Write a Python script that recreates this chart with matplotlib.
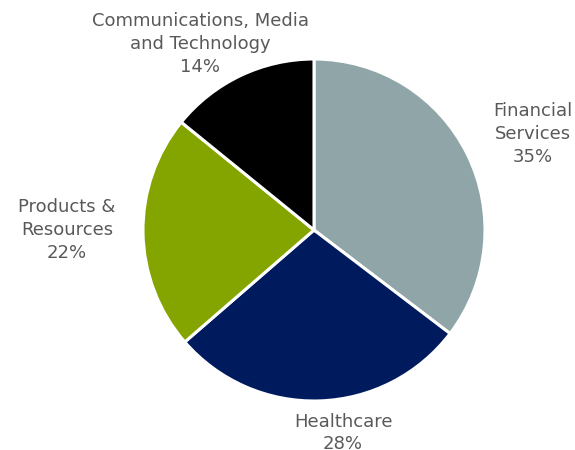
import matplotlib
matplotlib.use("Agg")
import matplotlib.pyplot as plt

# Revenue share by industry segment
segments = ["Financial\nServices", "Healthcare", "Products &\nResources",
            "Communications, Media\nand Technology"]
shares = [35, 28, 22, 14]
colors = ["#8FA5A8", "#001A5E", "#84A500", "#000000"]

# label anchor points (pixel-like coordinates, origin bottom-left)
label_pos = [(533, 316), (343, 17), (67, 220), (200, 406)]

W, H = 575, 450
fig = plt.figure(figsize=(W / 100, H / 100), dpi=100)
ax = fig.add_axes([0, 0, 1, 1])

ax.pie(shares, colors=colors, startangle=90, counterclock=False,
       center=(314, 220), radius=171, frame=True,
       wedgeprops=dict(edgecolor="white", linewidth=2.2))
ax.set_xlim(0, W)
ax.set_ylim(0, H)
ax.set_aspect("equal")
ax.axis("off")

for name, val, (x, y) in zip(segments, shares, label_pos):
    ax.text(x, y, f"{name}\n{val}%", ha="center", va="center",
            fontsize=13, color="#595959", linespacing=1.33,
            family="DejaVu Sans")

fig.savefig("out.png", dpi=100)
